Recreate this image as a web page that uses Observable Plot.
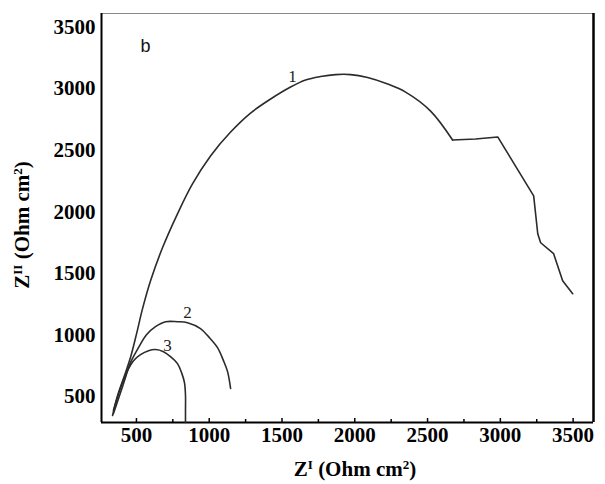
<!DOCTYPE html>
<html><head><meta charset="utf-8">
<script src="https://cdn.jsdelivr.net/npm/d3@7"></script>
<script src="https://cdn.jsdelivr.net/npm/@observablehq/plot@0.6"></script>
<style>body{margin:0;background:#fff} #chart{width:605px;height:484px;overflow:hidden}</style>
</head><body><div id="chart"></div><script>
// Nyquist curves (Z' , Z'')
const curve1X = [342, 377, 418, 459, 501, 542, 597, 679, 782, 885, 1009, 1147, 1284, 1422, 1559, 1662, 1765, 1868, 1971, 2088, 2226, 2349, 2521, 2672, 2830, 2982, 3229, 3257, 3277, 3366, 3428, 3497];
const curve1Y = [387, 533, 671, 817, 1011, 1214, 1441, 1708, 1984, 2227, 2454, 2648, 2802, 2916, 3013, 3070, 3098, 3114, 3114, 3090, 3037, 2972, 2818, 2583, 2591, 2608, 2130, 1822, 1749, 1660, 1441, 1335];
const curve1SmoothEnd = 23; // arc part is smooth up to this index, then a jagged tail
const curve2X = [342, 377, 418, 459, 514, 569, 631, 700, 782, 851, 940, 995, 1057, 1098, 1126, 1147];
const curve2Y = [363, 484, 630, 776, 898, 1003, 1068, 1108, 1108, 1100, 1052, 987, 898, 792, 703, 566];
const curve3X = [336, 363, 397, 439, 480, 528, 583, 631, 686, 734, 782, 810, 830, 837, 837, 837];
const curve3Y = [347, 468, 590, 711, 792, 841, 873, 882, 865, 825, 768, 695, 614, 509, 387, 290];

const curveNames = ["1", "2", "3"];
const curveLabelX = [1573, 851, 714];
const curveLabelY = [3096, 1181, 914];

const xDomain = [260, 3640];
const yDomain = [290, 3610];
const xTicks = [500, 1000, 1500, 2000, 2500, 3000, 3500];
const xMinorTicks = [750, 1250, 1750, 2250, 2750, 3250];
const yTicks = [500, 1000, 1500, 2000, 2500, 3000, 3500];
const panelLabel = "b";
const panelLabelX = 562, panelLabelY = 3345;

const smoothRows = [], tailRows = [];
[[curve1X, curve1Y], [curve2X, curve2Y], [curve3X, curve3Y]].forEach(([xs, ys], i) => {
  xs.forEach((x, j) => {
    const r = {curve: curveNames[i], x, y: ys[j]};
    if (i > 0 || j <= curve1SmoothEnd) smoothRows.push(r);
    if (i === 0 && j >= curve1SmoothEnd) tailRows.push(r);
  });
});
const labels = curveNames.map((n, i) => ({n, x: curveLabelX[i], y: curveLabelY[i]}));

const W = 605, H = 484;
const chart = Plot.plot({
  width: W, height: H,
  marginLeft: 101, marginRight: 12, marginTop: 13, marginBottom: 62,
  style: {fontFamily: "'Liberation Serif', serif", fontSize: "21px", fontWeight: "bold", color: "#000", background: "#fff"},
  x: {domain: xDomain, label: null},
  y: {domain: yDomain, label: null},
  marks: [
    Plot.axisX(xTicks, {tickSize: -4, tickPadding: 9, tickFormat: d => String(d), strokeWidth: 1.5}),
    Plot.axisX(xMinorTicks, {tickSize: -3, tickFormat: () => "", strokeWidth: 1.5}),
    Plot.axisY(yTicks, {tickSize: 0, tickPadding: 6, tickFormat: d => String(d)}),
    Plot.ruleY([yDomain[1]], {stroke: "#888", strokeWidth: 1}),
    Plot.ruleX([xDomain[0]], {stroke: "#000", strokeWidth: 2}),
    Plot.ruleY([yDomain[0]], {stroke: "#000", strokeWidth: 2}),
    Plot.ruleX([xDomain[1]], {stroke: "#000", strokeWidth: 2.5}),
    Plot.line(smoothRows, {x: "x", y: "y", z: "curve", stroke: "#2b2b2b", strokeWidth: 1.6, curve: "catmull-rom"}),
    Plot.line(tailRows, {x: "x", y: "y", stroke: "#2b2b2b", strokeWidth: 1.6, strokeLinejoin: "round"}),
    Plot.text(labels, {x: "x", y: "y", text: "n", fontSize: 17, fontWeight: "normal", fill: "#222"}),
    Plot.text([panelLabel], {x: () => panelLabelX, y: () => panelLabelY, text: d => d, fontFamily: "'Liberation Sans', sans-serif", fontWeight: "normal", fontSize: 18, fill: "#111"})
  ]
});
document.getElementById("chart").appendChild(chart);

const svg = d3.select(chart);
function title(g, parts) {
  parts.forEach(([t, sup]) => {
    const ts = g.append("tspan").text(t);
    if (sup) ts.attr("baseline-shift", "super").attr("font-size", "13px");
  });
}
const xt = svg.append("text").attr("x", 355).attr("y", 476).attr("text-anchor", "middle")
  .attr("font-family", "'Liberation Serif', serif").attr("font-weight", "bold").attr("font-size", "21px").attr("fill", "#000");
title(xt, [["Z", false], ["I", true], [" (Ohm cm", false], ["2", true], [")", false]]);
const yt = svg.append("text").attr("transform", "translate(29,225) rotate(-90)").attr("text-anchor", "middle")
  .attr("font-family", "'Liberation Serif', serif").attr("font-weight", "bold").attr("font-size", "21px").attr("fill", "#000");
title(yt, [["Z", false], ["II", true], [" (Ohm cm", false], ["2", true], [")", false]]);
</script></body></html>
